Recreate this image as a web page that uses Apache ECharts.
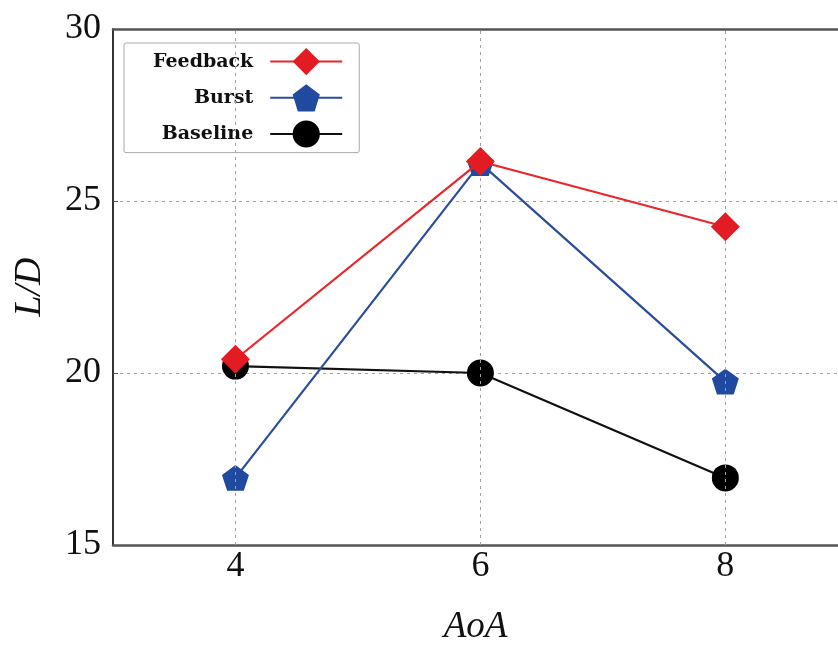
<!DOCTYPE html>
<html>
<head>
<meta charset="utf-8">
<script src="https://cdn.jsdelivr.net/npm/echarts@6/dist/echarts.min.js"></script>
<style>
html,body{margin:0;padding:0;background:#fff;}
#c{width:838px;height:645px;}
</style>
</head>
<body>
<div id="c"></div>
<script>
var aoa = [4, 6, 8];
var xTicks = [4, 6, 8];
var yTicks = [15, 20, 25, 30];
var feedback = [20.4, 26.15, 24.25];
var burst = [16.95, 26.1, 19.75];
var baseline = [20.2, 20.0, 16.95];
var seriesNames = ['Feedback', 'Burst', 'Baseline'];

function pairs(vals) { return aoa.map(function (x, i) { return [x, vals[i]]; }); }

var pentagon = 'path://M0,-1 L0.951,-0.309 L0.588,0.809 L-0.588,0.809 L-0.951,-0.309 Z';
var gridLineStyle = { color: '#a0a0a0', type: [3, 4], width: 1 };
var frameStyle = { color: '#555', width: 2.5 };

var chart = echarts.init(document.getElementById('c'));
chart.setOption({
  animation: false,
  backgroundColor: '#fff',
  grid: { left: 113, right: 0, top: 29, bottom: 100, show: false, containLabel: false, outerBoundsMode: 'none' },
  legend: {
    data: seriesNames,
    orient: 'vertical',
    align: 'right',
    left: 124, top: 43,
    itemWidth: 72, itemHeight: 34, itemGap: 9,
    padding: [5, 16, 5, 29],
    backgroundColor: '#fff',
    borderColor: '#aaa', borderWidth: 1, borderRadius: 2,
    textStyle: { fontFamily: 'DejaVu Serif', fontWeight: 'bold', fontSize: 19, color: '#111', padding: [0, 12, 0, 0] }
  },
  xAxis: [{
    type: 'value', min: 3, max: 8.92, interval: 1,
    name: 'AoA', nameLocation: 'middle', nameGap: 64,
    nameTextStyle: { fontFamily: 'Liberation Serif', fontStyle: 'italic', fontSize: 37, color: '#111' },
    axisLine: { show: true, lineStyle: frameStyle },
    axisTick: { show: false },
    splitLine: { show: false },
    axisLabel: {
      fontFamily: 'Liberation Serif', fontSize: 36, color: '#111', margin: 4, showMaxLabel: false,
      formatter: function (v) { return xTicks.indexOf(v) >= 0 ? String(v) : ''; }
    }
  }, {
    type: 'value', position: 'top', min: 3, max: 8.92,
    axisLine: { show: true, lineStyle: frameStyle },
    axisTick: { show: false }, axisLabel: { show: false }, splitLine: { show: false }
  }],
  yAxis: {
    type: 'value', min: yTicks[0], max: yTicks[yTicks.length - 1], interval: 5,
    name: 'L/D', nameLocation: 'middle', nameGap: 64,
    nameTextStyle: { fontFamily: 'Liberation Serif', fontStyle: 'italic', fontSize: 38, color: '#111' },
    axisLine: { show: true, lineStyle: { color: '#333', width: 2 } },
    axisTick: { show: true, inside: true, length: 5, lineStyle: { color: '#555' } },
    splitLine: { show: true, lineStyle: gridLineStyle },
    axisLabel: { fontFamily: 'Liberation Serif', fontSize: 36, color: '#111', margin: 12 }
  },
  series: [
    {
      name: 'grid', type: 'line', data: [], silent: true,
      markLine: {
        silent: true, symbol: 'none', label: { show: false },
        lineStyle: gridLineStyle,
        data: xTicks.map(function (t) { return { xAxis: t }; })
      }
    },
    {
      name: 'Baseline', type: 'line', data: pairs(baseline),
      symbol: 'circle', symbolSize: 27,
      lineStyle: { color: '#111', width: 2.2 }, itemStyle: { color: '#000' }, z: 3
    },
    {
      name: 'Burst', type: 'line', data: pairs(burst),
      symbol: pentagon, symbolSize: 27, symbolKeepAspect: true,
      lineStyle: { color: '#2a4d9e', width: 2.2 }, itemStyle: { color: '#1f4a9f' }, z: 4
    },
    {
      name: 'Feedback', type: 'line', data: pairs(feedback),
      symbol: 'diamond', symbolSize: 29,
      lineStyle: { color: '#e8262c', width: 2.2 }, itemStyle: { color: '#e21c22' }, z: 5
    }
  ]
});
</script>
</body>
</html>
